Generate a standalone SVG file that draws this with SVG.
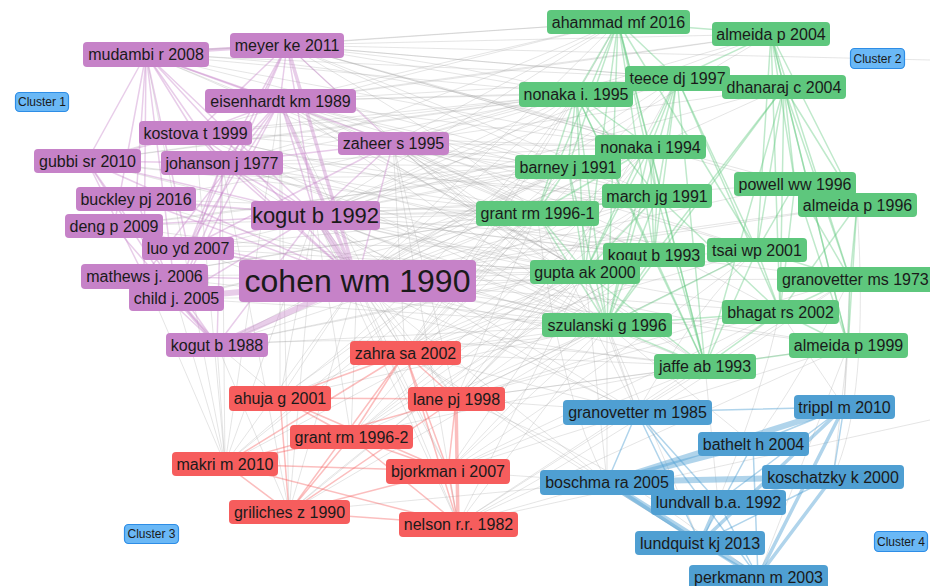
<svg xmlns="http://www.w3.org/2000/svg" width="930" height="586" viewBox="0 0 930 586">
<style>
text{font-family:"Liberation Sans",Arial,sans-serif;font-size:16px;fill:#1a1a1a;text-anchor:middle}
.c1 rect{fill:#c682c8}
.c2 rect{fill:#5ec77d}
.c3 rect{fill:#f65d5d}
.c4 rect{fill:#4f9fd2}
.cl rect{fill:#6ab8f6;stroke:#2d8de6;stroke-width:1.2}
.cl text{font-size:12px}
#edges path{fill:none;stroke-linecap:round}
.e{stroke:#a8a8a8;stroke-opacity:.3;stroke-width:1}
.p{stroke:#c682c8;stroke-opacity:.4;stroke-width:1.5}
.g{stroke:#5ec77d;stroke-opacity:.4;stroke-width:1.5}
.r{stroke:#f65d5d;stroke-opacity:.4;stroke-width:1.5}
.b{stroke:#4f9fd2;stroke-opacity:.45;stroke-width:1.5}
.w3{stroke-width:3.5}
.w6{stroke-width:6}
</style>
<rect width="930" height="586" fill="#fff"/>
<g id="edges">
<!-- gray inter-cluster -->
<path class="e" d="M357 281L618 22"/><path class="e" d="M357 281L771 34"/><path class="e" d="M357 281L677 78"/><path class="e" d="M357 281L784 87"/><path class="e" d="M357 281L576 94"/><path class="e" d="M357 281L650 147"/><path class="e" d="M357 281L568 167"/><path class="e" d="M357 281L795 184"/><path class="e" d="M357 281L657 196"/><path class="e" d="M357 281L857 205"/><path class="e" d="M357 281L537 213"/><path class="e" d="M357 281L654 255"/><path class="e" d="M357 281L757 250"/><path class="e" d="M357 281L585 272"/><path class="e" d="M357 281L850 279"/><path class="e" d="M357 281L780 312"/><path class="e" d="M357 281L607 325"/><path class="e" d="M357 281L848 346"/><path class="e" d="M357 281L705 366"/>
<path class="e" d="M315 215L618 22"/><path class="e" d="M315 215L677 78"/><path class="e" d="M315 215L576 94"/><path class="e" d="M315 215L650 147"/><path class="e" d="M315 215L568 167"/><path class="e" d="M315 215L657 196"/><path class="e" d="M315 215L537 213"/><path class="e" d="M315 215L654 255"/><path class="e" d="M315 215L585 272"/><path class="e" d="M315 215L607 325"/><path class="e" d="M315 215L757 250"/><path class="e" d="M315 215L850 279"/><path class="e" d="M315 215L705 366"/><path class="e" d="M315 215L784 87"/><path class="e" d="M315 215L795 184"/>
<path class="e" d="M287 45L618 22"/><path class="e" d="M287 45L771 34"/><path class="e" d="M287 45L677 78"/><path class="e" d="M287 45L576 94"/><path class="e" d="M287 45L784 87"/><path class="e" d="M287 45L650 147"/><path class="e" d="M287 45L795 184"/><path class="e" d="M287 45L930 60"/><path class="e" d="M287 45L857 205"/><path class="e" d="M287 45L568 167"/>
<path class="e" d="M280 101L618 22"/><path class="e" d="M280 101L677 78"/><path class="e" d="M280 101L576 94"/><path class="e" d="M280 101L650 147"/><path class="e" d="M280 101L568 167"/><path class="e" d="M280 101L657 196"/><path class="e" d="M280 101L537 213"/><path class="e" d="M280 101L654 255"/><path class="e" d="M280 101L585 272"/><path class="e" d="M280 101L607 325"/><path class="e" d="M280 101L771 34"/><path class="e" d="M280 101L784 87"/>
<path class="e" d="M393 143L576 94"/><path class="e" d="M393 143L650 147"/><path class="e" d="M393 143L568 167"/><path class="e" d="M393 143L537 213"/><path class="e" d="M393 143L654 255"/><path class="e" d="M393 143L585 272"/><path class="e" d="M393 143L607 325"/><path class="e" d="M393 143L771 34"/><path class="e" d="M393 143L784 87"/><path class="e" d="M393 143L618 22"/><path class="e" d="M393 143L657 196"/><path class="e" d="M393 143L757 250"/>
<path class="e" d="M146 54L618 22"/><path class="e" d="M146 54L576 94"/><path class="e" d="M146 54L537 213"/><path class="e" d="M146 54L677 78"/><path class="e" d="M146 54L650 147"/>
<path class="e" d="M222 163L576 94"/><path class="e" d="M222 163L537 213"/><path class="e" d="M222 163L657 196"/><path class="e" d="M222 163L654 255"/><path class="e" d="M222 163L585 272"/><path class="e" d="M222 163L568 167"/><path class="e" d="M222 163L650 147"/>
<path class="e" d="M195 133L576 94"/><path class="e" d="M195 133L537 213"/><path class="e" d="M195 133L568 167"/><path class="e" d="M195 133L607 325"/><path class="e" d="M195 133L650 147"/>
<path class="e" d="M188 248L537 213"/><path class="e" d="M188 248L585 272"/><path class="e" d="M188 248L607 325"/><path class="e" d="M144 276L537 213"/><path class="e" d="M144 276L585 272"/><path class="e" d="M114 226L568 167"/><path class="e" d="M114 226L537 213"/><path class="e" d="M136 199L537 213"/><path class="e" d="M87 161L576 94"/><path class="e" d="M87 161L537 213"/><path class="e" d="M176 298L537 213"/><path class="e" d="M176 298L607 325"/><path class="e" d="M217 345L537 213"/><path class="e" d="M217 345L585 272"/><path class="e" d="M217 345L607 325"/><path class="e" d="M217 345L654 255"/>
<path class="e" d="M405 353L576 94"/><path class="e" d="M405 353L650 147"/><path class="e" d="M405 353L657 196"/><path class="e" d="M405 353L537 213"/><path class="e" d="M405 353L654 255"/><path class="e" d="M405 353L585 272"/><path class="e" d="M405 353L607 325"/><path class="e" d="M405 353L705 366"/><path class="e" d="M405 353L568 167"/><path class="e" d="M405 353L677 78"/><path class="e" d="M405 353L757 250"/><path class="e" d="M405 353L780 312"/>
<path class="e" d="M456 399L537 213"/><path class="e" d="M456 399L654 255"/><path class="e" d="M456 399L585 272"/><path class="e" d="M456 399L607 325"/><path class="e" d="M456 399L705 366"/><path class="e" d="M456 399L650 147"/><path class="e" d="M456 399L657 196"/><path class="e" d="M456 399L757 250"/><path class="e" d="M456 399L780 312"/><path class="e" d="M456 399L850 279"/>
<path class="e" d="M351 437L537 213"/><path class="e" d="M351 437L585 272"/><path class="e" d="M351 437L607 325"/><path class="e" d="M351 437L654 255"/><path class="e" d="M351 437L657 196"/>
<path class="e" d="M448 471L585 272"/><path class="e" d="M448 471L607 325"/><path class="e" d="M448 471L705 366"/><path class="e" d="M448 471L654 255"/><path class="e" d="M448 471L780 312"/><path class="e" d="M448 471L848 346"/>
<path class="e" d="M458 524L607 325"/><path class="e" d="M458 524L705 366"/><path class="e" d="M458 524L585 272"/><path class="e" d="M458 524L780 312"/><path class="e" d="M458 524L848 346"/><path class="e" d="M458 524L930 420"/>
<path class="e" d="M280 398L537 213"/><path class="e" d="M280 398L585 272"/><path class="e" d="M280 398L607 325"/><path class="e" d="M225 464L537 213"/><path class="e" d="M225 464L585 272"/><path class="e" d="M289 512L585 272"/><path class="e" d="M289 512L607 325"/>
<path class="e" d="M405 353L357 281"/><path class="e" d="M405 353L315 215"/><path class="e" d="M405 353L280 101"/><path class="e" d="M405 353L393 143"/><path class="e" d="M280 398L357 281"/><path class="e" d="M280 398L315 215"/><path class="e" d="M280 398L280 101"/><path class="e" d="M456 399L357 281"/><path class="e" d="M456 399L315 215"/><path class="e" d="M456 399L393 143"/><path class="e" d="M351 437L357 281"/><path class="e" d="M351 437L315 215"/><path class="e" d="M225 464L357 281"/><path class="e" d="M225 464L315 215"/><path class="e" d="M225 464L146 54"/><path class="e" d="M225 464L280 101"/><path class="e" d="M225 464L222 163"/><path class="e" d="M225 464L195 133"/><path class="e" d="M448 471L357 281"/><path class="e" d="M448 471L315 215"/><path class="e" d="M289 512L357 281"/><path class="e" d="M289 512L315 215"/><path class="e" d="M289 512L280 101"/><path class="e" d="M289 512L222 163"/><path class="e" d="M458 524L357 281"/><path class="e" d="M458 524L315 215"/><path class="e" d="M458 524L393 143"/><path class="e" d="M225 464L217 345"/><path class="e" d="M289 512L217 345"/><path class="e" d="M280 398L217 345"/><path class="e" d="M225 464L176 298"/><path class="e" d="M225 464L144 276"/>
<path class="e" d="M637 412L850 279"/><path class="e" d="M637 412L607 325"/><path class="e" d="M637 412L585 272"/><path class="e" d="M637 412L357 281"/><path class="e" d="M637 412L405 353"/><path class="e" d="M637 412L537 213"/><path class="e" d="M844 407L850 279"/><path class="e" d="M844 407L848 346"/><path class="e" d="M844 407L780 312"/><path class="e" d="M753 444L607 325"/><path class="e" d="M607 482L607 325"/><path class="e" d="M607 482L585 272"/><path class="e" d="M607 482L458 524"/><path class="e" d="M607 482L405 353"/><path class="e" d="M718 502L705 366"/><path class="e" d="M758 577L848 346"/><path class="e" d="M607 482L357 281"/><path class="e" d="M833 477L848 346"/><path class="e" d="M700 543L607 325"/><path class="e" d="M637 412L456 399"/><path class="e" d="M637 412L315 215"/><path class="e" d="M607 482L289 512"/><path class="e" d="M607 482L448 471"/>
<!-- gray curved extras -->
<path class="e" d="M146 54Q400 60 650 147"/><path class="e" d="M146 54Q420 120 657 196"/><path class="e" d="M146 54Q380 150 585 272"/><path class="e" d="M87 161Q330 130 576 94"/><path class="e" d="M87 161Q340 200 650 147"/><path class="e" d="M87 161Q350 230 585 272"/><path class="e" d="M136 199Q350 170 576 94"/><path class="e" d="M136 199Q370 230 657 196"/><path class="e" d="M136 199Q370 270 607 325"/><path class="e" d="M114 226Q350 200 650 147"/><path class="e" d="M114 226Q360 260 585 272"/><path class="e" d="M144 276Q360 240 657 196"/><path class="e" d="M144 276Q370 300 607 325"/><path class="e" d="M176 298Q370 260 568 167"/><path class="e" d="M176 298Q400 300 585 272"/><path class="e" d="M188 248Q380 220 576 94"/><path class="e" d="M188 248Q400 240 654 255"/><path class="e" d="M195 133Q400 120 677 78"/><path class="e" d="M195 133Q420 190 657 196"/><path class="e" d="M222 163Q400 120 618 22"/><path class="e" d="M222 163Q420 220 607 325"/><path class="e" d="M280 101Q450 80 771 34"/><path class="e" d="M280 101Q480 160 757 250"/><path class="e" d="M280 101Q470 200 705 366"/><path class="e" d="M287 45Q480 120 657 196"/><path class="e" d="M287 45Q470 150 537 213"/><path class="e" d="M287 45Q450 200 585 272"/><path class="e" d="M393 143Q500 100 677 78"/><path class="e" d="M393 143Q540 180 780 312"/><path class="e" d="M393 143Q520 250 705 366"/><path class="e" d="M315 215Q530 120 771 34"/><path class="e" d="M315 215Q520 270 780 312"/><path class="e" d="M315 215Q530 300 848 346"/><path class="e" d="M357 281Q520 250 857 205"/><path class="e" d="M357 281Q500 330 607 325"/><path class="e" d="M217 345Q400 250 568 167"/><path class="e" d="M217 345Q420 280 657 196"/><path class="e" d="M217 345Q430 330 705 366"/><path class="e" d="M405 353Q520 200 618 22"/><path class="e" d="M456 399Q560 300 677 78"/><path class="e" d="M456 399Q600 380 848 346"/><path class="e" d="M351 437Q480 330 650 147"/><path class="e" d="M351 437Q500 400 705 366"/><path class="e" d="M448 471Q560 400 757 250"/><path class="e" d="M458 524Q600 450 850 279"/><path class="e" d="M280 398Q420 300 576 94"/><path class="e" d="M225 464Q380 330 568 167"/><path class="e" d="M289 512Q440 380 654 255"/><path class="e" d="M637 412Q500 350 315 215"/><path class="e" d="M637 412Q700 300 757 250"/><path class="e" d="M607 482Q560 400 537 213"/><path class="e" d="M718 502Q760 400 780 312"/><path class="e" d="M700 543Q500 420 405 353"/><path class="e" d="M753 444Q800 380 850 279"/><path class="e" d="M758 577Q600 450 456 399"/><path class="e" d="M833 477Q870 400 857 205"/><path class="e" d="M146 54Q330 30 576 94"/><path class="e" d="M87 161Q300 100 618 22"/><path class="e" d="M195 133Q450 230 654 255"/><path class="e" d="M315 215Q450 160 568 167"/><path class="e" d="M357 281Q460 200 650 147"/><path class="e" d="M280 101Q420 150 537 213"/><path class="e" d="M393 143Q470 210 585 272"/><path class="e" d="M222 163Q380 280 607 325"/><path class="e" d="M188 248Q420 340 705 366"/>
<!-- purple cluster -->
<path class="p w3" d="M146 54L287 45"/><path class="p" d="M146 54L280 101"/><path class="p" d="M146 54L195 133"/><path class="p" d="M146 54L222 163"/><path class="p" d="M146 54L87 161"/><path class="p" d="M146 54L136 199"/><path class="p" d="M146 54L114 226"/><path class="p" d="M146 54L188 248"/><path class="p" d="M146 54L144 276"/><path class="p" d="M146 54L357 281"/><path class="p" d="M146 54L315 215"/><path class="p" d="M146 54L176 298"/><path class="p" d="M146 54L393 143"/>
<path class="p" d="M287 45L280 101"/><path class="p" d="M287 45L195 133"/><path class="p" d="M287 45L222 163"/><path class="p" d="M287 45L315 215"/><path class="p w3" d="M287 45L357 281"/><path class="p" d="M287 45L393 143"/><path class="p" d="M287 45L188 248"/><path class="p" d="M287 45L176 298"/>
<path class="p w3" d="M280 101L357 281"/><path class="p" d="M280 101L315 215"/><path class="p" d="M280 101L222 163"/><path class="p" d="M280 101L195 133"/><path class="p" d="M280 101L144 276"/><path class="p" d="M280 101L176 298"/><path class="p" d="M280 101L188 248"/>
<path class="p" d="M195 133L357 281"/><path class="p" d="M195 133L315 215"/><path class="p" d="M195 133L87 161"/><path class="p" d="M195 133L222 163"/>
<path class="p" d="M87 161L222 163"/><path class="p" d="M87 161L357 281"/><path class="p" d="M87 161L144 276"/><path class="p" d="M87 161L176 298"/><path class="p" d="M87 161L217 345"/><path class="p" d="M87 161L315 215"/>
<path class="p" d="M222 163L357 281"/><path class="p" d="M222 163L315 215"/><path class="p" d="M222 163L188 248"/><path class="p" d="M222 163L176 298"/><path class="p" d="M222 163L217 345"/>
<path class="p" d="M136 199L357 281"/><path class="p" d="M136 199L315 215"/><path class="p" d="M136 199L176 298"/><path class="p" d="M114 226L357 281"/><path class="p" d="M114 226L315 215"/><path class="p" d="M114 226L217 345"/><path class="p" d="M188 248L357 281"/><path class="p" d="M188 248L315 215"/><path class="p" d="M144 276L357 281"/>
<path class="p w6" d="M357 281L176 298"/><path class="p w6" d="M357 281L217 345"/><path class="p w6" d="M357 281L315 215"/><path class="p" d="M393 143L357 281"/><path class="p" d="M393 143L315 215"/><path class="p" d="M393 143L222 163"/><path class="p" d="M393 143L188 248"/><path class="p w3" d="M176 298L217 345"/><path class="p" d="M144 276L217 345"/><path class="p" d="M315 215L176 298"/><path class="p" d="M315 215L217 345"/>
<!-- green cluster -->
<path class="g" d="M618 22L771 34"/><path class="g" d="M618 22L677 78"/><path class="g" d="M618 22L576 94"/><path class="g" d="M618 22L650 147"/><path class="g" d="M618 22L568 167"/><path class="g" d="M618 22L657 196"/><path class="g" d="M618 22L537 213"/><path class="g" d="M618 22L654 255"/><path class="g" d="M618 22L585 272"/><path class="g" d="M618 22L607 325"/><path class="g" d="M618 22L705 366"/><path class="g" d="M618 22L757 250"/>
<path class="g" d="M771 34L784 87"/><path class="g" d="M771 34L857 205"/><path class="g" d="M771 34L850 279"/><path class="g" d="M771 34L848 346"/><path class="g" d="M771 34L795 184"/><path class="g" d="M771 34L780 312"/><path class="g" d="M771 34L757 250"/><path class="g" d="M771 34L677 78"/>
<path class="g" d="M677 78L576 94"/><path class="g" d="M677 78L650 147"/><path class="g" d="M677 78L657 196"/><path class="g" d="M677 78L654 255"/><path class="g" d="M677 78L585 272"/><path class="g" d="M677 78L607 325"/><path class="g" d="M677 78L705 366"/><path class="g" d="M677 78L757 250"/><path class="g" d="M677 78L780 312"/>
<path class="g" d="M784 87L795 184"/><path class="g" d="M784 87L857 205"/><path class="g" d="M784 87L850 279"/><path class="g" d="M784 87L848 346"/><path class="g" d="M784 87L780 312"/><path class="g" d="M784 87L757 250"/><path class="g" d="M784 87L654 255"/><path class="g" d="M784 87L705 366"/><path class="g" d="M784 87L607 325"/>
<path class="g" d="M576 94L650 147"/><path class="g" d="M576 94L568 167"/><path class="g" d="M576 94L657 196"/><path class="g" d="M576 94L537 213"/><path class="g" d="M576 94L654 255"/><path class="g" d="M576 94L585 272"/><path class="g" d="M576 94L607 325"/><path class="g" d="M576 94L705 366"/>
<path class="g" d="M650 147L568 167"/><path class="g" d="M650 147L657 196"/><path class="g" d="M650 147L537 213"/><path class="g" d="M650 147L654 255"/><path class="g" d="M650 147L585 272"/><path class="g" d="M650 147L607 325"/><path class="g" d="M650 147L705 366"/>
<path class="g" d="M568 167L537 213"/><path class="g" d="M568 167L585 272"/><path class="g" d="M568 167L607 325"/>
<path class="g" d="M795 184L857 205"/><path class="g" d="M795 184L850 279"/><path class="g" d="M795 184L780 312"/><path class="g" d="M795 184L848 346"/><path class="g" d="M795 184L757 250"/>
<path class="g" d="M657 196L537 213"/><path class="g" d="M657 196L654 255"/><path class="g" d="M657 196L585 272"/><path class="g" d="M657 196L607 325"/><path class="g" d="M657 196L705 366"/><path class="g" d="M657 196L780 312"/>
<path class="g" d="M857 205L850 279"/><path class="g" d="M857 205L848 346"/><path class="g" d="M857 205L780 312"/>
<path class="g" d="M537 213L585 272"/><path class="g" d="M537 213L607 325"/><path class="g" d="M654 255L607 325"/><path class="g" d="M654 255L705 366"/><path class="g" d="M654 255L585 272"/>
<path class="g" d="M757 250L850 279"/><path class="g" d="M757 250L780 312"/><path class="g" d="M757 250L705 366"/><path class="g" d="M757 250L607 325"/>
<path class="g" d="M585 272L607 325"/><path class="g" d="M585 272L705 366"/><path class="g" d="M850 279L780 312"/><path class="g" d="M850 279L848 346"/><path class="g" d="M780 312L705 366"/><path class="g" d="M780 312L607 325"/><path class="g" d="M780 312L848 346"/><path class="g" d="M607 325L705 366"/><path class="g" d="M848 346L705 366"/>
<!-- red cluster -->
<path class="r" d="M405 353L280 398"/><path class="r" d="M405 353L456 399"/><path class="r" d="M405 353L351 437"/><path class="r" d="M405 353L225 464"/><path class="r" d="M405 353L289 512"/><path class="r" d="M405 353L448 471"/><path class="r" d="M405 353L458 524"/>
<path class="r" d="M280 398L456 399"/><path class="r" d="M280 398L351 437"/><path class="r" d="M280 398L289 512"/><path class="r" d="M280 398L448 471"/>
<path class="r" d="M456 399L225 464"/><path class="r" d="M456 399L448 471"/><path class="r w3" d="M456 399L458 524"/><path class="r" d="M456 399L289 512"/>
<path class="r" d="M351 437L225 464"/><path class="r" d="M351 437L448 471"/><path class="r" d="M351 437L289 512"/><path class="r" d="M351 437L458 524"/>
<path class="r" d="M225 464L448 471"/><path class="r" d="M225 464L289 512"/><path class="r" d="M225 464L458 524"/><path class="r" d="M289 512L458 524"/><path class="r" d="M448 471L458 524"/><path class="r" d="M289 512L448 471"/>
<!-- blue cluster -->
<path class="b" d="M637 412L844 407"/><path class="b" d="M637 412L607 482"/><path class="b" d="M637 412L718 502"/><path class="b" d="M637 412L758 577"/><path class="b" d="M637 412L700 543"/>
<path class="b" d="M844 407L753 444"/><path class="b w6" d="M844 407L607 482"/><path class="b" d="M844 407L718 502"/><path class="b w3" d="M844 407L700 543"/><path class="b w3" d="M844 407L758 577"/><path class="b" d="M844 407L833 477"/>
<path class="b w6" d="M753 444L607 482"/><path class="b" d="M753 444L700 543"/><path class="b" d="M753 444L758 577"/>
<path class="b w6" d="M607 482L833 477"/><path class="b w3" d="M607 482L718 502"/><path class="b w6" d="M607 482L758 577"/><path class="b w3" d="M607 482L700 543"/>
<path class="b" d="M833 477L718 502"/><path class="b w3" d="M833 477L758 577"/><path class="b" d="M833 477L700 543"/><path class="b w3" d="M718 502L700 543"/><path class="b" d="M700 543L758 577"/><path class="b" d="M718 502L758 577"/>
</g>
<g id="n-cohen-wm-1990" class="c1"><rect x="239" y="260" width="237" height="42" rx="4"/><text x="357.5" y="292" style="font-size:32px">cohen wm 1990</text></g>
<g id="n-mudambi-r-2008" class="c1"><rect x="83" y="42" width="126" height="25" rx="4"/><text x="146" y="60">mudambi r 2008</text></g>
<g id="n-meyer-ke-2011" class="c1"><rect x="230" y="33" width="114" height="25" rx="4"/><text x="287" y="51">meyer ke 2011</text></g>
<g id="n-eisenhardt-km-1989" class="c1"><rect x="205" y="89" width="151" height="24" rx="4"/><text x="280.5" y="107">eisenhardt km 1989</text></g>
<g id="n-kostova-t-1999" class="c1"><rect x="139" y="121" width="113" height="24" rx="4"/><text x="195.5" y="139">kostova t 1999</text></g>
<g id="n-zaheer-s-1995" class="c1"><rect x="338" y="132" width="111" height="23" rx="4"/><text x="393.5" y="149">zaheer s 1995</text></g>
<g id="n-gubbi-sr-2010" class="c1"><rect x="34" y="149" width="107" height="24" rx="4"/><text x="87.5" y="167">gubbi sr 2010</text></g>
<g id="n-johanson-j-1977" class="c1"><rect x="161" y="151" width="122" height="24" rx="4"/><text x="222" y="169">johanson j 1977</text></g>
<g id="n-buckley-pj-2016" class="c1"><rect x="76" y="187" width="120" height="24" rx="4"/><text x="136" y="205">buckley pj 2016</text></g>
<g id="n-kogut-b-1992" class="c1"><rect x="251" y="201" width="129" height="29" rx="4"/><text x="315.5" y="223" style="font-size:22px">kogut b 1992</text></g>
<g id="n-deng-p-2009" class="c1"><rect x="65" y="214" width="98" height="24" rx="4"/><text x="114" y="232">deng p 2009</text></g>
<g id="n-luo-yd-2007" class="c1"><rect x="142" y="237" width="92" height="23" rx="4"/><text x="188" y="254">luo yd 2007</text></g>
<g id="n-mathews-j-2006" class="c1"><rect x="81" y="264" width="127" height="25" rx="4"/><text x="144.5" y="282">mathews j. 2006</text></g>
<g id="n-child-j-2005" class="c1"><rect x="129" y="286" width="95" height="25" rx="4"/><text x="176.5" y="304">child j. 2005</text></g>
<g id="n-kogut-b-1988" class="c1"><rect x="166" y="333" width="102" height="24" rx="4"/><text x="217" y="351">kogut b 1988</text></g>
<g id="n-zahra-sa-2002" class="c3"><rect x="350" y="341" width="111" height="24" rx="4"/><text x="405.5" y="359">zahra sa 2002</text></g>
<g id="n-ahuja-g-2001" class="c3"><rect x="229" y="386" width="102" height="25" rx="4"/><text x="280" y="404">ahuja g 2001</text></g>
<g id="n-lane-pj-1998" class="c3"><rect x="408" y="387" width="97" height="24" rx="4"/><text x="456.5" y="405">lane pj 1998</text></g>
<g id="n-grant-rm-1996-2" class="c3"><rect x="290" y="425" width="123" height="24" rx="4"/><text x="351.5" y="443">grant rm 1996-2</text></g>
<g id="n-makri-m-2010" class="c3"><rect x="172" y="452" width="106" height="24" rx="4"/><text x="225" y="470">makri m 2010</text></g>
<g id="n-bjorkman-i-2007" class="c3"><rect x="386" y="459" width="124" height="25" rx="4"/><text x="448" y="477">bjorkman i 2007</text></g>
<g id="n-griliches-z-1990" class="c3"><rect x="229" y="500" width="121" height="24" rx="4"/><text x="289.5" y="518">griliches z 1990</text></g>
<g id="n-nelson-rr-1982" class="c3"><rect x="399" y="512" width="119" height="25" rx="4"/><text x="458.5" y="530">nelson r.r. 1982</text></g>
<g id="n-ahammad-mf-2016" class="c2"><rect x="547" y="10" width="143" height="24" rx="4"/><text x="618.5" y="28">ahammad mf 2016</text></g>
<g id="n-almeida-p-2004" class="c2"><rect x="712" y="22" width="118" height="24" rx="4"/><text x="771" y="40">almeida p 2004</text></g>
<g id="n-teece-dj-1997" class="c2"><rect x="625" y="66" width="105" height="25" rx="4"/><text x="677.5" y="84">teece dj 1997</text></g>
<g id="n-dhanaraj-c-2004" class="c2"><rect x="722" y="75" width="124" height="24" rx="4"/><text x="784" y="93">dhanaraj c 2004</text></g>
<g id="n-nonaka-i-1995" class="c2"><rect x="519" y="82" width="114" height="25" rx="4"/><text x="576" y="100">nonaka i. 1995</text></g>
<g id="n-nonaka-i-1994" class="c2"><rect x="595" y="135" width="111" height="24" rx="4"/><text x="650.5" y="153">nonaka i 1994</text></g>
<g id="n-barney-j-1991" class="c2"><rect x="515" y="155" width="106" height="24" rx="4"/><text x="568" y="173">barney j 1991</text></g>
<g id="n-powell-ww-1996" class="c2"><rect x="734" y="172" width="122" height="24" rx="4"/><text x="795" y="190">powell ww 1996</text></g>
<g id="n-march-jg-1991" class="c2"><rect x="602" y="184" width="110" height="24" rx="4"/><text x="657" y="202">march jg 1991</text></g>
<g id="n-almeida-p-1996" class="c2"><rect x="798" y="193" width="119" height="24" rx="4"/><text x="857.5" y="211">almeida p 1996</text></g>
<g id="n-grant-rm-1996-1" class="c2"><rect x="476" y="201" width="123" height="25" rx="4"/><text x="537.5" y="219">grant rm 1996-1</text></g>
<g id="n-kogut-b-1993" class="c2"><rect x="603" y="243" width="102" height="24" rx="4"/><text x="654" y="261">kogut b 1993</text></g>
<g id="n-tsai-wp-2001" class="c2"><rect x="707" y="238" width="100" height="24" rx="4"/><text x="757" y="256">tsai wp 2001</text></g>
<g id="n-gupta-ak-2000" class="c2"><rect x="530" y="260" width="110" height="24" rx="4"/><text x="585" y="278">gupta ak 2000</text></g>
<g id="n-granovetter-ms-1973" class="c2"><rect x="777" y="267" width="160" height="25" rx="4"/><text x="782" y="285" style="text-anchor:start">granovetter ms 1973</text></g>
<g id="n-bhagat-rs-2002" class="c2"><rect x="722" y="300" width="117" height="24" rx="4"/><text x="780.5" y="318">bhagat rs 2002</text></g>
<g id="n-szulanski-g-1996" class="c2"><rect x="542" y="313" width="130" height="24" rx="4"/><text x="607" y="331">szulanski g 1996</text></g>
<g id="n-almeida-p-1999" class="c2"><rect x="789" y="333" width="119" height="25" rx="4"/><text x="848.5" y="351">almeida p 1999</text></g>
<g id="n-jaffe-ab-1993" class="c2"><rect x="654" y="354" width="102" height="25" rx="4"/><text x="705" y="372">jaffe ab 1993</text></g>
<g id="n-granovetter-m-1985" class="c4"><rect x="563" y="400" width="149" height="25" rx="4"/><text x="637.5" y="418">granovetter m 1985</text></g>
<g id="n-trippl-m-2010" class="c4"><rect x="794" y="395" width="101" height="24" rx="4"/><text x="844.5" y="413">trippl m 2010</text></g>
<g id="n-bathelt-h-2004" class="c4"><rect x="698" y="432" width="111" height="24" rx="4"/><text x="753.5" y="450">bathelt h 2004</text></g>
<g id="n-koschatzky-k-2000" class="c4"><rect x="762" y="465" width="142" height="24" rx="4"/><text x="833" y="483">koschatzky k 2000</text></g>
<g id="n-boschma-ra-2005" class="c4"><rect x="540" y="470" width="134" height="25" rx="4"/><text x="607" y="488">boschma ra 2005</text></g>
<g id="n-lundvall-ba-1992" class="c4"><rect x="651" y="490" width="135" height="25" rx="4"/><text x="718.5" y="508">lundvall b.a. 1992</text></g>
<g id="n-lundquist-kj-2013" class="c4"><rect x="635" y="531" width="130" height="24" rx="4"/><text x="700" y="549">lundquist kj 2013</text></g>
<g id="n-perkmann-m-2003" class="c4"><rect x="689" y="565" width="139" height="25" rx="4"/><text x="758.5" y="583">perkmann m 2003</text></g>
<g id="cluster-1" class="cl"><rect x="15.5" y="92.5" width="53" height="19" rx="4"/><text x="42" y="106">Cluster 1</text></g>
<g id="cluster-2" class="cl"><rect x="850.5" y="48.5" width="54" height="20" rx="4"/><text x="877.5" y="63">Cluster 2</text></g>
<g id="cluster-3" class="cl"><rect x="124.5" y="524.5" width="54" height="19" rx="4"/><text x="151.5" y="538">Cluster 3</text></g>
<g id="cluster-4" class="cl"><rect x="874.5" y="531.5" width="53" height="20" rx="4"/><text x="901" y="546">Cluster 4</text></g>
</svg>
